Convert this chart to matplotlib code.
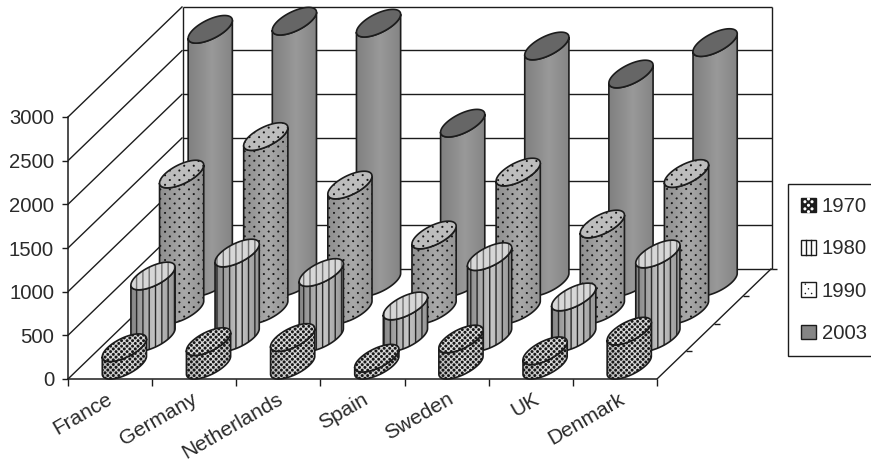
import numpy as np
import matplotlib
matplotlib.use("Agg")
import matplotlib.pyplot as plt
from matplotlib.patches import Polygon, Patch, Rectangle, Circle
from matplotlib.lines import Line2D

plt.rcParams['font.family'] = ['Liberation Sans', 'DejaVu Sans']

countries = ["France", "Germany", "Netherlands", "Spain", "Sweden", "UK", "Denmark"]
years = ["1970", "1980", "1990", "2003"]
v1970 = [200, 270, 317, 80, 300, 165, 390]
v1980 = [705, 968, 745, 362, 927, 465, 957]
v1990 = [1556, 1985, 1430, 858, 1579, 984, 1562]
v2003 = [2897, 2990, 2967, 1822, 2706, 2385, 2745]
series = [v1970, v1980, v1990, v2003]
y_ticks = [0, 500, 1000, 1500, 2000, 2500, 3000]

W, H = 871, 462
INK = "#1c1c1c"
TEXT = "#2a2a2a"

# Oblique depth vector for the full floor, in data units
DEPTH_X = 114.5 / 84.14
DEPTH_Y = 110.5 / (262.0 / 3000)
N_DEPTH = len(years)
RADIUS = 0.2          # cylinder radius along the category axis

styles = [
    dict(shade=(0.74, 0.88, 0.78), top=0.86, kind="dots", period=5.4, dot=1.45, ink=0.10, top_ink=0.10),
    dict(shade=(0.52, 0.78, 0.58), top=0.84, kind="stripes", period=6.2, dot=0.7, ink=0.16, top_ink=0.45),
    dict(shade=(0.56, 0.66, 0.58), top=0.74, kind="dots", period=9.4, dot=1.0, ink=0.08, top_ink=0.08),
    dict(shade=(0.50, 0.60, 0.52), top=0.40, kind="plain", period=1, dot=0, ink=0, top_ink=0),
]


def project(x, v, d):
    """Category position, value and depth slot to 2D data coordinates."""
    return x + d / N_DEPTH * DEPTH_X, v + d / N_DEPTH * DEPTH_Y


def texture_mask(kind, px, py, period, size):
    """Coverage of the print pattern at figure pixel positions."""
    if kind == "stripes":
        dist = np.abs((px / period + 0.5) % 1 - 0.5) * period
    elif kind == "dots":
        a = np.hypot((px / period + 0.5) % 1 - 0.5, (py / period + 0.5) % 1 - 0.5)
        b = np.hypot(px / period % 1 - 0.5, py / period % 1 - 0.5)
        dist = np.minimum(a, b) * period
    else:
        return np.zeros_like(px)
    return np.clip(size + 0.5 - dist, 0, 1)


def paint(poly, base, ink, st, order):
    """Fill a polygon's bounding box with shaded, patterned pixels, clipped to it."""
    pts = poly.get_xy()
    xmin, xmax = pts[:, 0].min(), pts[:, 0].max()
    ymin, ymax = pts[:, 1].min(), pts[:, 1].max()
    (x0, y0), (x1, y1) = ax.transData.transform([(xmin, ymin), (xmax, ymax)])
    nx, ny = max(int(np.ceil(x1 - x0)), 2), max(int(np.ceil(y1 - y0)), 2)
    px, py = np.meshgrid(x0 + (np.arange(nx) + 0.5) * (x1 - x0) / nx,
                         y0 + (np.arange(ny) + 0.5) * (y1 - y0) / ny)
    mask = texture_mask(st["kind"], px, py, st["period"], st["dot"])
    tone = base(np.linspace(0, 1, nx))[None, :] * (1 - mask) + ink * mask
    im = ax.imshow(tone, cmap="gray", vmin=0, vmax=1, origin="lower", aspect="auto",
                   extent=(xmin, xmax, ymin, ymax), zorder=order, interpolation="bilinear")
    im.set_clip_box(fig.bbox)
    im.set_clip_path(poly)


fig = plt.figure(figsize=(W / 100, H / 100), dpi=100)
ax = fig.add_axes([68 / W, 1 - 379 / H, 589 / W, 262 / H])
ax.set_xlim(0, 7)
ax.set_ylim(0, 3000)
ax.patch.set_visible(False)
for side in ("top", "right"):
    ax.spines[side].set_visible(False)
for side in ("left", "bottom"):
    ax.spines[side].set_linewidth(1.1)
    ax.spines[side].set_color(INK)
    ax.spines[side].set_zorder(1)

ax.set_yticks(y_ticks)
ax.set_xticks(range(8))
ax.set_xticklabels([])
ax.tick_params(axis="y", length=4, width=1.0, color=INK, labelsize=14.6, labelcolor=TEXT, pad=6)
ax.tick_params(axis="x", length=5, width=1.0, color=INK)


def wall_line(xs, vs, ds, lw=1.0):
    px, py = project(np.array(xs, float), np.array(vs, float), np.array(ds, float))
    ax.plot(px, py, color=INK, lw=lw, clip_on=False, zorder=2, solid_capstyle="butt")


# Back wall and side wall grid
for v in y_ticks:
    wall_line([0, 7], [v, v], [N_DEPTH, N_DEPTH])
    wall_line([0, 0], [v, v], [0, N_DEPTH])
wall_line([0, 0], [0, 3000], [N_DEPTH, N_DEPTH])
wall_line([7, 7], [0, 3000], [N_DEPTH, N_DEPTH])

# Floor edge with its depth ticks
wall_line([7, 7], [0, 0], [0, N_DEPTH])
for d in range(1, N_DEPTH + 1):
    wall_line([7, 7.07], [0, 0], [d, d])

# Cylinders, back row first
t = np.linspace(0, 2 * np.pi, 181)
r_d = 0.5          # radius across a depth slot
dx_d = r_d / N_DEPTH * DEPTH_X
t_right = np.arctan2(dx_d, RADIUS)
LW = 1.2
order = 10
for s in range(N_DEPTH - 1, -1, -1):
    st = styles[s]
    for c, value in enumerate(series[s]):
        cx, d0 = c + 0.5, s + 0.5

        def rim(a):
            return project(cx + RADIUS * np.cos(a), 0.0, d0 + r_d * np.sin(a))

        # Lower silhouette of the base between the two side tangents
        bx, by = rim(np.linspace(t_right, t_right - np.pi, 90))
        lower = np.column_stack([bx, by])
        upper = lower[::-1] + [0, value]
        body = np.vstack([lower, upper])

        poly = Polygon(body, closed=True, fc="none", ec="none", clip_on=False, zorder=order)
        ax.add_patch(poly)
        stops = np.array(st["shade"])
        paint(poly, lambda u: np.interp(u, [0, 0.55, 1], stops), st["ink"], st, order + 0.1)
        ax.add_patch(Polygon(body, closed=True, fc="none", ec=INK, lw=LW,
                             clip_on=False, zorder=order + 0.3))

        ex, ey = rim(t)
        ring = np.column_stack([ex, ey + value])
        top_patch = Polygon(ring, closed=True, fc="none", ec="none", clip_on=False, zorder=order)
        ax.add_patch(top_patch)
        top_tone = st["top"]
        paint(top_patch, lambda u: np.full_like(u, top_tone), st["top_ink"], st, order + 0.4)
        ax.add_patch(Polygon(ring, closed=True, fc="none", ec=INK, lw=LW,
                             clip_on=False, zorder=order + 0.6))
        order += 1

ax.set_xlim(0, 7)
ax.set_ylim(0, 3000)

# Slanted category labels, fanning out slightly to the right along the axis
for c, name in enumerate(countries):
    ax.annotate(name, xy=(c + 0.5, 0), xycoords="data", xytext=(-3 + 0.9 * c, -7.5),
                textcoords="offset points", rotation=30, rotation_mode="anchor",
                ha="right", va="top", fontsize=15, color=TEXT, annotation_clip=False)


class KeyHandler:
    """Small printed swatch for one legend entry."""

    def __init__(self, kind):
        self.kind = kind

    def legend_artist(self, legend, orig_handle, fontsize, handlebox):
        w, h = handlebox.width, handlebox.height
        x0, y0 = handlebox.xdescent, handlebox.ydescent
        tr = handlebox.get_transform()
        face = {"dense": "#1c1c1c", "stripes": "white", "sparse": "white", "plain": "#858585"}[self.kind]
        handlebox.add_artist(Rectangle((x0, y0), w, h, fc=face, ec=INK, lw=1.0, transform=tr))
        if self.kind == "dense":
            for i, j in [(.25, .25), (.75, .25), (.5, .5), (.25, .75), (.75, .75), (.5, .05), (.5, .95)]:
                handlebox.add_artist(Circle((x0 + i * w, y0 + j * h), 0.11 * w, fc="white", ec="none", transform=tr))
        elif self.kind == "stripes":
            for i in (.36, .68):
                handlebox.add_artist(Line2D([x0 + i * w] * 2, [y0, y0 + h], color=INK, lw=1.0, transform=tr))
        elif self.kind == "sparse":
            for i, j in [(.28, .22), (.72, .22), (.5, .55), (.28, .88)]:
                handlebox.add_artist(Circle((x0 + i * w, y0 + j * h), 0.055 * w, fc=INK, ec="none", transform=tr))
        return handlebox


kinds = ["dense", "stripes", "sparse", "plain"]
handles = [Patch(label=y) for y in years]
leg = fig.legend(handles, years, loc="upper left",
                 bbox_to_anchor=(788 / W, 1 - 184 / H), borderaxespad=0,
                 frameon=True, fancybox=False, edgecolor=INK, framealpha=1,
                 fontsize=14.6, labelcolor=TEXT, handlelength=0.7, handleheight=0.7,
                 handletextpad=0.3, labelspacing=1.14, borderpad=0.66,
                 handler_map={h: KeyHandler(k) for h, k in zip(handles, kinds)})
leg.get_frame().set_linewidth(1.0)

fig.savefig("out.png", dpi=100)
